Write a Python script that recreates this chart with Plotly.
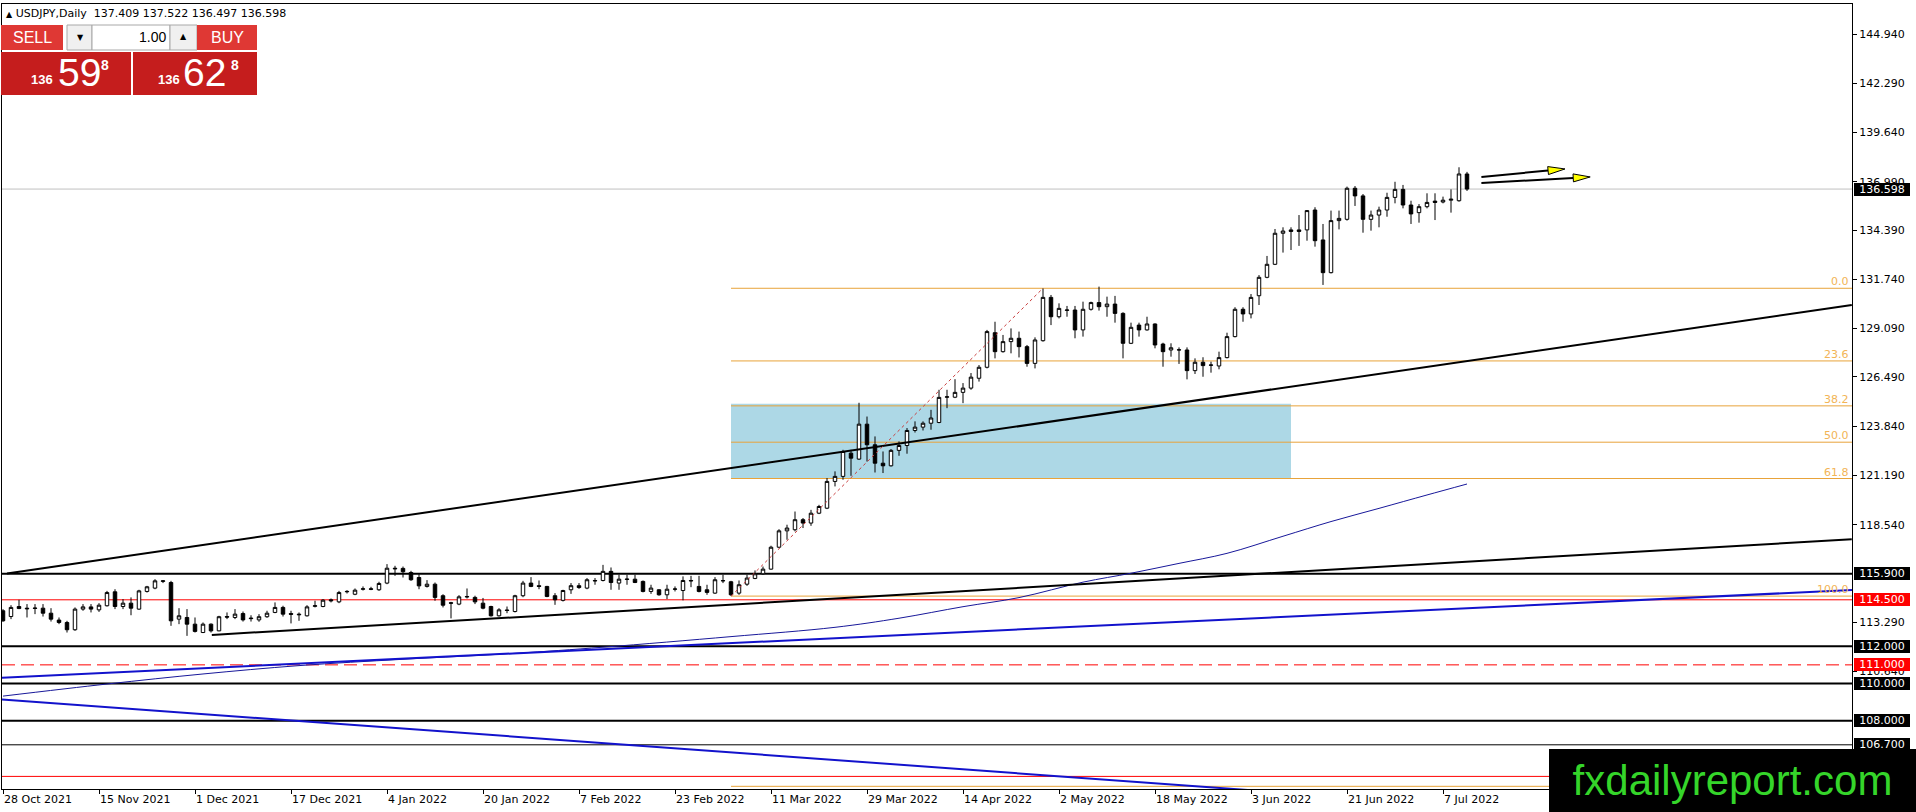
import plotly.graph_objects as go

# ---------------------------------------------------------------------------
# USDJPY daily bars, bar index 0 = 28 Oct 2021
# ---------------------------------------------------------------------------
opens = [
    113.91, 113.60, 114.14, 114.05, 114.06, 114.05, 113.78, 113.41, 113.28, 112.89,
    114.00, 114.12, 113.96, 114.18, 114.93, 114.14, 114.32, 114.00, 114.95, 115.13,
    115.49, 115.43, 113.46, 113.55, 113.19, 112.74, 113.19, 112.83, 113.60, 113.55,
    113.76, 113.52, 113.42, 113.59, 113.82, 114.09, 113.76, 113.69, 113.64, 114.15,
    114.14, 114.50, 114.39, 114.93, 114.80, 115.07, 115.09, 115.04, 115.40, 116.20,
    116.19, 115.97, 115.70, 115.22, 115.34, 114.72, 114.34, 114.27, 114.68, 114.63,
    114.32, 114.14, 113.64, 113.95, 113.87, 114.72, 115.40, 115.26, 115.22, 114.72,
    114.47, 115.04, 115.26, 115.13, 115.54, 115.54, 116.03, 115.40, 115.62, 115.61,
    115.49, 114.95, 115.04, 114.77, 115.07, 115.00, 115.54, 115.22, 115.04, 114.86,
    115.52, 115.47, 114.86, 115.34, 115.65, 115.90, 116.15, 117.33, 118.21, 118.27,
    118.81, 118.63, 119.16, 119.43, 120.87, 121.14, 122.39, 122.07, 123.95, 122.84,
    121.85, 121.71, 122.54, 122.80, 123.61, 123.79, 124.00, 124.04, 125.40, 125.40,
    125.66, 125.89, 126.42, 127.01, 128.87, 127.85, 128.39, 128.57, 128.12, 127.22,
    128.44, 130.77, 129.73, 130.07, 130.09, 129.02, 130.13, 130.49, 130.27, 130.41,
    129.91, 128.30, 129.28, 129.02, 129.34, 128.26, 127.94, 127.94, 127.94, 126.83,
    127.28, 127.12, 127.08, 127.53, 128.66, 130.13, 129.88, 130.86, 131.85, 132.55,
    134.22, 134.40, 134.40, 134.40, 135.47, 133.86, 132.10, 134.90, 134.97, 136.64,
    136.23, 134.97, 135.20, 135.47, 136.15, 136.58, 135.74, 135.33, 135.65, 135.95,
    135.90, 136.00, 135.97, 137.409,
]
highs = [
    114.00, 114.21, 114.50, 114.27, 114.27, 114.27, 114.05, 113.55, 113.37, 114.09,
    114.27, 114.27, 114.32, 114.98, 115.07, 114.54, 114.63, 115.04, 115.25, 115.61,
    115.56, 115.52, 114.05, 114.00, 113.55, 113.28, 113.23, 113.64, 113.82, 114.00,
    113.87, 113.67, 113.73, 113.91, 114.36, 114.18, 113.91, 113.82, 114.21, 114.45,
    114.54, 114.57, 114.98, 115.02, 115.11, 115.22, 115.20, 115.47, 116.42, 116.33,
    116.29, 116.06, 115.88, 115.56, 115.43, 114.80, 114.39, 114.75, 115.11, 114.72,
    114.60, 114.18, 114.05, 114.14, 114.77, 115.52, 115.72, 115.54, 115.25, 114.86,
    115.04, 115.40, 115.40, 115.67, 115.67, 116.38, 116.24, 115.85, 115.85, 115.85,
    115.54, 115.31, 115.07, 115.31, 115.22, 115.76, 115.79, 115.79, 115.31, 115.72,
    115.85, 115.52, 115.54, 115.85, 116.08, 116.29, 117.41, 118.30, 118.54, 119.25,
    118.90, 119.34, 119.61, 121.05, 121.41, 122.57, 122.57, 125.10, 124.36, 123.29,
    122.48, 122.61, 123.02, 123.74, 124.10, 124.10, 124.72, 125.80, 125.80, 126.37,
    126.16, 126.70, 127.13, 129.02, 129.46, 128.75, 129.10, 128.93, 128.21, 128.62,
    131.25, 130.90, 130.45, 130.31, 130.31, 130.54, 130.54, 131.35, 130.81, 130.85,
    129.97, 129.41, 129.41, 129.73, 129.37, 128.33, 128.30, 128.08, 128.08, 127.49,
    127.55, 127.31, 127.85, 128.87, 130.24, 130.24, 130.95, 131.97, 133.00, 134.45,
    134.54, 134.54, 135.20, 135.47, 135.62, 134.72, 135.44, 135.44, 136.73, 136.76,
    136.33, 135.44, 135.65, 136.40, 136.99, 136.82, 135.97, 135.79, 136.37, 136.37,
    136.19, 136.58, 137.77, 137.522,
]
lows = [
    113.32, 113.46, 114.00, 113.55, 113.73, 113.60, 113.33, 113.19, 112.74, 112.83,
    113.91, 113.82, 113.85, 114.14, 114.00, 114.00, 113.67, 113.96, 114.89, 115.07,
    115.40, 113.10, 113.19, 112.56, 112.74, 112.71, 112.74, 112.81, 113.46, 113.46,
    113.33, 113.33, 113.32, 113.53, 113.78, 113.60, 113.23, 113.37, 113.60, 114.09,
    114.10, 114.36, 114.32, 114.84, 114.75, 115.00, 115.02, 114.98, 115.34, 115.79,
    115.70, 115.52, 115.07, 115.16, 114.45, 114.09, 113.50, 114.21, 114.57, 114.27,
    113.99, 113.60, 113.60, 113.78, 113.82, 114.64, 115.18, 115.07, 114.64, 114.23,
    114.41, 114.82, 115.09, 115.07, 115.31, 115.49, 115.04, 115.04, 115.31, 115.40,
    114.90, 114.82, 114.72, 114.54, 114.95, 114.47, 115.18, 114.90, 114.77, 114.82,
    115.40, 114.70, 114.77, 115.25, 115.61, 115.85, 116.12, 117.28, 117.73, 118.18,
    118.36, 118.48, 119.11, 119.38, 120.60, 120.96, 121.17, 122.03, 121.94, 121.35,
    121.32, 121.67, 122.25, 122.36, 123.50, 123.61, 123.65, 124.00, 124.81, 125.35,
    125.08, 125.80, 126.24, 126.95, 127.49, 127.80, 127.76, 127.54, 127.04, 126.95,
    128.39, 129.28, 129.64, 129.73, 128.57, 128.66, 130.06, 130.06, 129.73, 129.41,
    127.49, 128.26, 128.66, 128.98, 128.03, 127.04, 127.58, 127.19, 126.36, 126.65,
    126.50, 126.72, 126.90, 127.49, 128.62, 129.46, 129.64, 130.36, 131.80, 132.51,
    133.18, 133.32, 133.54, 133.82, 133.50, 131.44, 132.06, 134.43, 134.90, 135.69,
    134.25, 134.36, 134.54, 135.11, 135.83, 135.56, 134.72, 134.79, 135.56, 134.93,
    135.83, 135.33, 135.92, 136.497,
]
closes = [
    113.37, 114.09, 114.03, 114.02, 114.04, 113.78, 113.46, 113.28, 112.89, 114.00,
    114.12, 114.00, 114.21, 114.89, 114.14, 114.32, 114.05, 114.98, 115.20, 115.52,
    115.52, 113.37, 113.64, 113.19, 112.80, 113.19, 112.83, 113.59, 113.57, 113.73,
    113.42, 113.49, 113.59, 113.78, 114.09, 113.73, 113.72, 113.72, 114.12, 114.18,
    114.48, 114.45, 114.89, 114.95, 115.02, 115.09, 115.07, 115.38, 116.20, 116.17,
    116.01, 115.58, 115.25, 115.34, 114.63, 114.21, 114.32, 114.66, 114.66, 114.39,
    114.05, 113.64, 113.96, 113.93, 114.72, 115.40, 115.22, 115.22, 114.68, 114.50,
    115.00, 115.26, 115.16, 115.58, 115.52, 116.03, 115.43, 115.61, 115.60, 115.43,
    114.95, 115.13, 114.77, 115.07, 115.08, 115.54, 115.52, 114.95, 114.90, 115.58,
    115.53, 114.77, 115.31, 115.67, 115.90, 116.15, 117.33, 118.21, 118.36, 118.81,
    118.63, 119.16, 119.52, 120.87, 121.14, 122.48, 122.12, 123.95, 122.84, 121.85,
    121.71, 122.54, 122.80, 123.61, 123.79, 124.00, 124.28, 125.39, 125.42, 125.66,
    125.89, 126.48, 127.01, 128.93, 127.85, 128.39, 128.57, 128.12, 127.22, 128.48,
    130.77, 129.73, 130.18, 130.09, 129.02, 130.13, 130.49, 130.27, 130.41, 129.91,
    128.30, 129.16, 129.02, 129.34, 128.21, 127.85, 128.06, 127.95, 126.83, 127.28,
    127.10, 127.13, 127.53, 128.66, 130.13, 129.88, 130.77, 131.85, 132.55, 134.22,
    134.34, 134.32, 134.32, 135.44, 133.82, 132.10, 134.90, 135.02, 136.64, 136.23,
    134.97, 135.20, 135.47, 136.15, 136.58, 135.74, 135.26, 135.65, 135.88, 135.88,
    136.00, 136.05, 137.41, 136.598,
]
bars = list(range(len(opens)))

date_tick_bars = [0, 12, 24, 36, 48, 60, 72, 84, 96, 108, 120, 132, 144, 156, 168, 180]
date_tick_labels = [
    "28 Oct 2021", "15 Nov 2021", "1 Dec 2021", "17 Dec 2021", "4 Jan 2022",
    "20 Jan 2022", "7 Feb 2022", "23 Feb 2022", "11 Mar 2022", "29 Mar 2022",
    "14 Apr 2022", "2 May 2022", "18 May 2022", "3 Jun 2022", "21 Jun 2022",
    "7 Jul 2022",
]
# axis ticks that are not hidden behind level boxes
price_ticks = [144.94, 142.29, 139.64, 136.99, 134.39, 131.74, 129.09, 126.49,
               123.84, 121.19, 118.54, 113.29, 110.64]

# moving average (thin blue curve), sampled along the chart
ma_bars = [0, 13, 25, 37, 50, 64, 75, 91, 104, 112, 120, 127, 135, 141, 147,
           153, 160, 166, 172, 178, 183]
ma_vals = [109.32, 109.97, 110.51, 110.96, 111.30, 111.62, 111.95, 112.52, 113.02,
           113.51, 114.13, 114.62, 115.45, 115.93, 116.46, 117.00, 117.92, 118.71,
           119.42, 120.14, 120.73]

# horizontal levels (last one sits under the watermark, so no price box)
level_prices = [115.9, 114.5, 112.0, 111.0, 110.0, 108.0, 106.7, 105.0]
level_colors = ["black", "red", "black", "red", "black", "black", "black", "red"]
level_widths = [2, 1, 2, 1, 2, 2, 1, 1]
level_dashes = ["solid", "solid", "solid", "13px,6px", "solid", "solid", "solid", "solid"]
level_boxed = [True, True, True, True, True, True, True, False]

# trend lines: (bar, price) end points
trend_up_bars = [0.5, 231.1]
trend_up_prices = [115.92, 130.36]
trend_low_bars = [26.1, 231.1]
trend_low_prices = [112.61, 117.76]
blue_up_bars = [-0.125, 231.125]
blue_up_prices = [110.31, 115.03]
blue_down_bars = [-0.125, 160.0]
blue_down_prices = [109.14, 104.13]

# fibonacci retracement
fib_bars = [91, 130]
fib_prices = [114.70, 131.26]
fib_ratios = [0.0, 23.6, 38.2, 50.0, 61.8, 100.0, 161.8]
fib_labelled = [True, True, True, True, True, True, False]

# support zone rectangle
zone_bars = [91, 161]
zone_prices = [121.03, 125.05]

# projection arrows
arrow_start_bars = [184.8, 184.8]
arrow_start_prices = [137.25, 136.92]
arrow_tip_bars = [195.25, 198.4]
arrow_tip_prices = [137.68, 137.25]

ask_price = 136.628

# ---------------------------------------------------------------------------
# geometry of the page (pixels)
# ---------------------------------------------------------------------------
W, H = 1916, 812
PL, PR, PT, PB = 2, 1852, 4, 789
X_RANGE = [-0.125, 231.125]
Y_RANGE = [104.322, 146.554]
PX_PER_BAR = (PR - PL) / (X_RANGE[1] - X_RANGE[0])
PX_PER_YEN = (PB - PT) / (Y_RANGE[1] - Y_RANGE[0])


def px(x):
    return (x - PL) / (PR - PL)


def py(y):
    return (PB - y) / (PB - PT)


FIB_LINE = "#E8A33A"
FIB_TEXT = "#F2B456"
BLUE = "#1212CC"
MA_BLUE = "#18189A"

fig = go.Figure()

fig.add_trace(go.Candlestick(
    x=bars, open=opens, high=highs, low=lows, close=closes,
    increasing=dict(line=dict(color="black", width=1), fillcolor="white"),
    decreasing=dict(line=dict(color="black", width=1), fillcolor="black"),
    whiskerwidth=0, hoverinfo="skip", showlegend=False,
))

fig.add_trace(go.Scatter(x=ma_bars, y=ma_vals, mode="lines", line_shape="spline",
                         line=dict(color=MA_BLUE, width=1), hoverinfo="skip"))

for xs, ys, col in [(blue_up_bars, blue_up_prices, BLUE),
                    (blue_down_bars, blue_down_prices, BLUE),
                    (trend_up_bars, trend_up_prices, "black"),
                    (trend_low_bars, trend_low_prices, "black")]:
    fig.add_trace(go.Scatter(x=xs, y=ys, mode="lines",
                             line=dict(color=col, width=2), hoverinfo="skip"))

# fib diagonal
fig.add_trace(go.Scatter(x=fib_bars, y=fib_prices, mode="lines",
                         line=dict(color="#C83C3C", width=1, dash="3px,3px"),
                         hoverinfo="skip"))

# arrows: black shaft + yellow head (head built in pixel space)
for sb, sp, tb, tp in zip(arrow_start_bars, arrow_start_prices,
                          arrow_tip_bars, arrow_tip_prices):
    x0, y0 = sb * PX_PER_BAR, sp * PX_PER_YEN
    x1, y1 = tb * PX_PER_BAR, tp * PX_PER_YEN
    length = ((x1 - x0) ** 2 + (y1 - y0) ** 2) ** 0.5
    dx, dy = (x1 - x0) / length, (y1 - y0) / length
    bx, by = x1 - 17 * dx, y1 - 17 * dy
    nx, ny = -dy * 4, dx * 4
    fig.add_trace(go.Scatter(x=[sb, bx / PX_PER_BAR], y=[sp, by / PX_PER_YEN],
                             mode="lines", line=dict(color="black", width=2),
                             hoverinfo="skip"))
    hx = [x1, bx + nx, bx - nx, x1]
    hy = [y1, by + ny, by - ny, y1]
    fig.add_trace(go.Scatter(x=[v / PX_PER_BAR for v in hx],
                             y=[v / PX_PER_YEN for v in hy],
                             mode="lines", fill="toself", fillcolor="#FFFF00",
                             line=dict(color="black", width=1), hoverinfo="skip"))

shapes = []
# zone rectangle
shapes.append(dict(type="rect", layer="below", xref="x", yref="y",
                   x0=zone_bars[0], x1=zone_bars[1], y0=zone_prices[0], y1=zone_prices[1],
                   fillcolor="#ADD8E6", line=dict(width=0)))
# fib levels
fib_lo, fib_hi = fib_prices
fib_levels = [fib_hi - r / 100.0 * (fib_hi - fib_lo) for r in fib_ratios]
for lv in fib_levels:
    shapes.append(dict(type="line", layer="below", xref="x", yref="y",
                       x0=fib_bars[0], x1=X_RANGE[1], y0=lv, y1=lv,
                       line=dict(color=FIB_LINE, width=1)))
# horizontal levels
for p, c, w, d in zip(level_prices, level_colors, level_widths, level_dashes):
    shapes.append(dict(type="line", layer="below", xref="paper", yref="y",
                       x0=0, x1=1, y0=p, y1=p, line=dict(color=c, width=w, dash=d)))
# current price
shapes.append(dict(type="line", layer="below", xref="paper", yref="y",
                   x0=0, x1=1, y0=closes[-1], y1=closes[-1],
                   line=dict(color="#C0C0C0", width=1)))


# trade panel (pixel boxes)
def box(x0, y0, x1, y1, fill, line=None):
    shapes.append(dict(type="rect", layer="above", xref="paper", yref="paper",
                       x0=px(x0), x1=px(x1), y0=py(y1), y1=py(y0),
                       fillcolor=fill,
                       line=dict(color=line or fill, width=1 if line else 0)))


box(1, 25, 63, 50, "#DF3834")
box(67, 25, 92, 50, "#F0F0F0", "#A8A8A8")
box(92, 25, 170, 50, "#FFFFFF", "#A8A8A8")
box(170, 25, 197, 50, "#F0F0F0", "#A8A8A8")
box(197, 25, 257, 50, "#DF3834")
box(1, 52, 131, 95, "#C51D1D")
box(133, 52, 257, 95, "#C51D1D")

annotations = []


def label(x, y, text, size, color="white", family="Liberation Sans", xanchor="center"):
    annotations.append(dict(x=px(x), y=py(y), xref="paper", yref="paper", text=text,
                            showarrow=False, xanchor=xanchor, yanchor="middle",
                            font=dict(family=family, size=size, color=color)))


header = "<span style='font-size:8px'>▲</span> USDJPY,Daily  %.3f %.3f %.3f %.3f" % (
    opens[-1], highs[-1], lows[-1], closes[-1])
label(4, 13.5, header, 11, "black", "DejaVu Sans", "left")
label(32, 37.5, "SELL", 16)
label(227, 37.5, "BUY", 16)
label(80, 38, "▼", 8, "black", "DejaVu Sans")
label(183.5, 37, "▲", 8, "black", "DejaVu Sans")
label(168, 37.5, "1.00", 14, "black", "Liberation Sans", "right")

for price, x_big, x_small, x_sup in [(closes[-1], 56, 29, 99), (ask_price, 181, 156, 229)]:
    s = "%.3f" % price
    label(x_small, 80, "<b>%s</b>" % s[:3], 13, xanchor="left")
    label(x_big, 72.5, s[4:6], 39, xanchor="left")
    label(x_sup, 65, "<b>%s</b>" % s[6], 14, xanchor="left")

# fib labels
for r, lv, show in zip(fib_ratios, fib_levels, fib_labelled):
    if not show:
        continue
    annotations.append(dict(x=1, xref="paper", y=lv, yref="y", xanchor="right",
                            yanchor="bottom", xshift=-1, yshift=-2, text="%.1f" % r,
                            showarrow=False,
                            font=dict(family="DejaVu Sans", size=11, color=FIB_TEXT)))

# level price boxes on the axis
for p, c, show in zip(level_prices + [closes[-1]], level_colors + ["black"],
                      level_boxed + [True]):
    if not show:
        continue
    annotations.append(dict(x=1, xref="paper", y=p, yref="y", xanchor="left",
                            yanchor="middle", xshift=2, text="%.3f" % p,
                            showarrow=False, bgcolor=c, borderpad=1, borderwidth=0,
                            width=54, height=11,
                            font=dict(family="DejaVu Sans", size=11, color="white")))

# watermark
annotations.append(dict(x=px(1549), y=py(812), xref="paper", yref="paper",
                        xanchor="left", yanchor="bottom", text="fxdailyreport.com",
                        showarrow=False, bgcolor="black", borderpad=0, borderwidth=0,
                        width=367, height=63,
                        font=dict(family="Liberation Sans", size=42, color="#35D52A")))

fig.update_layout(
    width=W, height=H,
    margin=dict(l=PL, r=W - PR, t=PT, b=H - PB, pad=0),
    paper_bgcolor="white", plot_bgcolor="white",
    showlegend=False, boxgap=0.38,
    font=dict(family="DejaVu Sans", size=11, color="black"),
    xaxis=dict(range=X_RANGE, rangeslider=dict(visible=False), showgrid=False,
               zeroline=False, showline=True, mirror=True, linecolor="black",
               linewidth=1, tickmode="array", tickvals=date_tick_bars,
               ticktext=date_tick_labels, ticks="outside", ticklen=4,
               tickcolor="black", ticklabelposition="outside right",
               tickfont=dict(family="DejaVu Sans", size=11, color="black")),
    yaxis=dict(range=Y_RANGE, side="right", showgrid=False, zeroline=False,
               showline=True, mirror=True, linecolor="black", linewidth=1,
               tickmode="array", tickvals=price_ticks,
               ticktext=["%.3f" % v for v in price_ticks], ticks="outside",
               ticklen=4, tickcolor="black",
               tickfont=dict(family="DejaVu Sans", size=11, color="black")),
    shapes=shapes,
    annotations=annotations,
)

fig.write_html("out.html", config={"displayModeBar": False},
               post_script="document.body.style.margin='0';document.body.style.overflow='hidden';")
